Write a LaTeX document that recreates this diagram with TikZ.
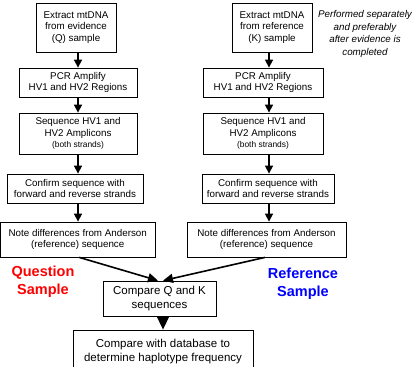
\documentclass[tikz,border=0pt]{standalone}
\usepackage{fontspec}
\setmainfont{Liberation Sans}
\usetikzlibrary{arrows.meta,calc}
\tikzset{
 stepbox/.style={draw=black, line width=0.8pt, fill=white, inner sep=0pt, align=center, font=\fontsize{9.8pt}{11.5pt}\selectfont},
 bigbox/.style={stepbox, font=\fontsize{11.5pt}{14pt}\selectfont},
 flow/.style={line width=1.6pt, -{Triangle[length=8pt,width=8pt]}},
 merge/.style={line width=1.6pt, -{Triangle[length=10pt,width=9pt]}},
 bigflow/.style={line width=1.6pt, -{Triangle[length=13pt,width=12pt]}},
 samplelabel/.style={font=\fontsize{14.5pt}{18pt}\selectfont\bfseries, align=center},
 notetext/.style={font=\fontsize{9.8pt}{12.7pt}\selectfont\itshape, align=center},
}
\newcommand{\smalltxt}{\fontsize{8.4pt}{10pt}\selectfont}
\begin{document}
\begin{tikzpicture}[x=1pt,y=-1pt]
\useasboundingbox (0,0) rectangle (414,366);
% columns
\coordinate (cl) at (78,0);
\coordinate (cr) at (269,0);
\coordinate (cb) at (163,0);
% left column
\node[stepbox, minimum width=80pt, minimum height=49pt] (l1) at (76,27.5) {Extract mtDNA\\from evidence\\(Q) sample};
\node[stepbox, minimum width=118pt, minimum height=29pt] (l2) at (78,82.5) {PCR Amplify\\HV1 and HV2 Regions};
\node[stepbox, minimum width=118pt, minimum height=41pt] (l3) at (78,133.5) {Sequence HV1 and\\HV2 Amplicons\\{\smalltxt (both strands)}};
\node[stepbox, minimum width=136pt, minimum height=29pt] (l4) at (75,188.5) {Confirm sequence with\\forward and reverse strands};
\node[stepbox, minimum width=154.5pt, minimum height=35pt] (l5) at (77.75,239.5) {Note differences from Anderson\\(reference) sequence};
% right column
\node[stepbox, minimum width=80pt, minimum height=49pt] (r1) at (272,27.5) {Extract mtDNA\\from reference\\(K) sample};
\node[stepbox, minimum width=120pt, minimum height=29pt] (r2) at (263,82.5) {PCR Amplify\\HV1 and HV2 Regions};
\node[stepbox, minimum width=120pt, minimum height=41pt] (r3) at (263,133.5) {Sequence HV1 and\\HV2 Amplicons\\{\smalltxt (both strands)}};
\node[stepbox, minimum width=132pt, minimum height=29pt] (r4) at (268,188.5) {Confirm sequence with\\forward and reverse strands};
\node[stepbox, minimum width=159pt, minimum height=35pt] (r5) at (266.5,239.5) {Note differences from Anderson\\(reference) sequence};
% merge boxes
\node[bigbox, minimum width=113pt, minimum height=35pt] (cmp) at (159.5,298.5) {Compare Q and K\\sequences};
\node[bigbox, minimum width=180pt, minimum height=44pt] (db) at (163,352) {Compare with database to\\determine haplotype frequency};
% labels
\node[samplelabel, text=red] (qs) at (43,282) {Question\\Sample};
\node[samplelabel, text=blue] (rs) at (303,284) {Reference\\Sample};
\node[notetext] (note) at (365,34) {Performed separately\\and preferably\\after evidence is\\completed};
% arrows left
\draw[flow] (l1.south -| cl) -- (l2.north -| cl);
\draw[flow] (l2.south -| cl) -- (l3.north -| cl);
\draw[flow] (l3.south -| cl) -- (l4.north -| cl);
\draw[flow] (l4.south -| cl) -- (l5.north -| cl);
% arrows right
\draw[flow] (r1.south -| cr) -- (r2.north -| cr);
\draw[flow] (r2.south -| cr) -- (r3.north -| cr);
\draw[flow] (r3.south -| cr) -- (r4.north -| cr);
\draw[flow] (r4.south -| cr) -- (r5.north -| cr);
% merge arrows
\draw[merge] ($(l5.south)+(1.5,0)$) -- ($(cmp.north)+(-1.5,0)$);
\draw[merge] ($(r5.south)+(-1.5,0)$) -- ($(cmp.north)+(3.5,0)$);
\draw[bigflow] (cmp.south -| cb) -- (db.north -| cb);
\end{tikzpicture}
\end{document}
